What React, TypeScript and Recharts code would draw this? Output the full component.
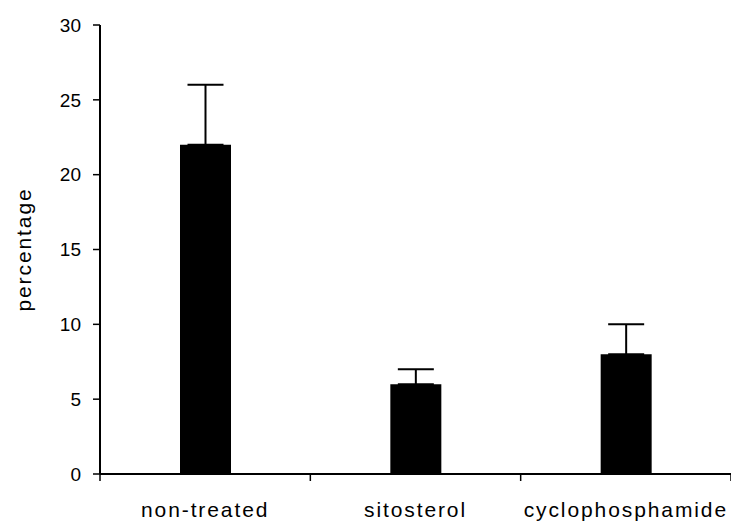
import React from 'react';
import { BarChart, Bar, XAxis, YAxis, ErrorBar } from 'recharts';

// groups and their mean / upper error (percentage)
const CATEGORIES = ['non-treated', 'sitosterol', 'cyclophosphamide'];
const POSITIONS = [0.5, 1.5, 2.5];
const VALUES = [22, 6, 8];
const ERRORS = [4, 1, 2];
const Y_TICKS = [0, 5, 10, 15, 20, 25, 30];
const X_TICKS = [0, 0.5, 1, 1.5, 2, 2.5, 3];

const chartData = CATEGORIES.map((name, i) => ({
  name,
  pos: POSITIONS[i],
  value: VALUES[i],
  err: [0, ERRORS[i]],
}));

const FONT = '"Liberation Sans", Arial, sans-serif';

// integers are group separators (tick marks), halves carry the group name
const XTick = (props: any) => {
  const { x, y, payload } = props;
  const v = payload.value;
  if (Number.isInteger(v)) {
    return <line x1={x} y1={y} x2={x} y2={y + 7} stroke="#000" strokeWidth={1.5} />;
  }
  const idx = POSITIONS.indexOf(v);
  return (
    <text
      x={x}
      y={y + 43}
      textAnchor="middle"
      fill="#000"
      fontSize={21}
      fontFamily={FONT}
      letterSpacing={1.9}
    >
      {CATEGORIES[idx]}
    </text>
  );
};

const YLabel = (props: any) => {
  const { viewBox } = props;
  const cx = 23;
  const cy = viewBox.y + viewBox.height / 2;
  return (
    <text
      x={cx}
      y={cy}
      transform={`rotate(-90, ${cx}, ${cy})`}
      textAnchor="middle"
      dominantBaseline="central"
      fill="#000"
      fontSize={21}
      fontFamily={FONT}
      letterSpacing={1.9}
    >
      percentage
    </text>
  );
};

export default function App() {
  return (
    <div style={{ position: 'absolute', left: 0, top: 0, background: '#fff' }}>
      <BarChart
        width={731}
        height={521}
        data={chartData}
        margin={{ top: 25, right: 0, bottom: 0, left: 0 }}
      >
        <XAxis
          dataKey="pos"
          type="number"
          domain={[0, 3]}
          ticks={X_TICKS}
          interval={0}
          tickLine={false}
          tickSize={0}
          tickMargin={0}
          height={47}
          axisLine={{ stroke: '#000', strokeWidth: 2 }}
          tick={<XTick />}
        />
        <XAxis
          xAxisId="top"
          orientation="top"
          type="number"
          domain={[0, 3]}
          height={0}
          tick={false}
          tickLine={false}
          axisLine={{ stroke: '#000', strokeWidth: 2 }}
        />
        <YAxis
          type="number"
          domain={[0, 30]}
          ticks={Y_TICKS}
          width={100}
          tickSize={7}
          tickMargin={12}
          axisLine={{ stroke: '#000', strokeWidth: 2 }}
          tickLine={{ stroke: '#000', strokeWidth: 1.5 }}
          tick={{ fill: '#000', fontSize: 19, fontFamily: FONT }}
          label={<YLabel />}
        />
        <Bar dataKey="value" fill="#000" barSize={51} isAnimationActive={false}>
          <ErrorBar
            dataKey="err"
            direction="y"
            width={18}
            stroke="#000"
            strokeWidth={2}
            isAnimationActive={false}
          />
        </Bar>
      </BarChart>
    </div>
  );
}
